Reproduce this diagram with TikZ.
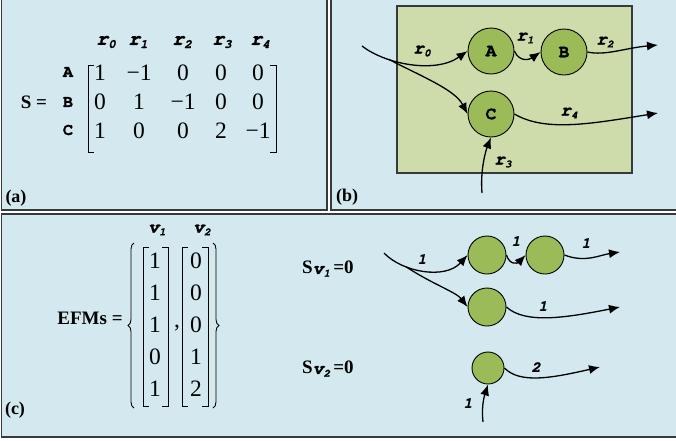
\documentclass[tikz,border=0pt]{standalone}
\usepackage{fontspec}
\setmainfont{Liberation Serif}
\newfontfamily\courfont{texgyrecursor}[Extension=.otf, UprightFont=*-regular, BoldFont=*-bold, ItalicFont=*-italic, BoldItalicFont=*-bolditalic, BoldFeatures={FakeBold=1.2}, BoldItalicFeatures={FakeBold=1.2}]
\usetikzlibrary{arrows.meta,decorations.pathreplacing}

\definecolor{panelbg}{RGB}{211,233,239}
\definecolor{cellbg}{RGB}{205,220,170}
\definecolor{nodegreen}{RGB}{155,187,89}
\definecolor{framegray}{RGB}{55,58,60}

% flux symbol: bold italic Courier letter with a lowered index
\newcommand{\flx}[4]{{\fontsize{#1}{#1}\courfont\bfseries\itshape #3\raisebox{-0.35ex}{\fontsize{#2}{#2}\selectfont #4}}}

\tikzset{
  panel/.style={fill=panelbg, draw=framegray, line width=1.6pt},
  tag/.style={font=\fontsize{18}{18}\selectfont\bfseries, inner sep=0pt},
  entry/.style={font=\fontsize{23.5}{23.5}\selectfont, inner sep=0pt},
  rowlab/.style={font=\fontsize{17}{17}\courfont\bfseries, inner sep=0pt},
  eqlab/.style={font=\fontsize{19}{19}\selectfont\bfseries, inner sep=0pt},
  pool/.style={circle, draw=black, fill=nodegreen, line width=0.9pt, inner sep=0pt,
    font=\fontsize{18}{18}\courfont\bfseries},
  bigpool/.style={pool, minimum size=46pt},
  smallpool/.style={pool, minimum size=38pt},
  tinypool/.style={pool, minimum size=32pt},
  flow/.style={line width=1.3pt, -{Latex[length=11pt,width=9pt]}},
  num/.style={font=\fontsize{15}{15}\courfont\bfseries\itshape, inner sep=0pt},
  bracket/.style={line width=0.9pt},
}

\begin{document}
\begin{tikzpicture}[x=1pt,y=-1pt]
\useasboundingbox (0,0) rectangle (676,440);
\fill[white] (0,0) rectangle (676,440);

% three panels
\path[panel] (1.5,-5) rectangle (327,210);
\path[panel] (331,-5) rectangle (682,210);
\path[panel] (1.5,214) rectangle (682,437);

% ---------- (a) stoichiometric matrix ----------
\node[tag] (taga) at (16,198) {(a)};
\node[eqlab] (seq) at (34,102) {S =};
\foreach \i/\x in {0/106,1/138,2/182,3/222,4/260}
  \node[inner sep=0pt] (h\i) at (\x,42) {\flx{20}{12.5}{r}{\i}};
\node[rowlab] (ra) at (68,72) {A};
\node[rowlab] (rb) at (68,102) {B};
\node[rowlab] (rc) at (68,130) {C};
\foreach \r/\y/\row in {1/73/{1,−1,0,0,0},2/102/{0,1,−1,0,0},3/131/{1,0,0,2,−1}}{
  \foreach \v [count=\c] in \row {
    \pgfmathsetmacro{\xx}{{0,100,139,183,221,258}[\c]}
    \node[entry] (m\r\c) at (\xx,\y) {\v};
  }
}
\draw[bracket] (94,65) -- (88,65) -- (88,152) -- (94,152);
\draw[bracket] (270,65) -- (276,65) -- (276,152) -- (270,152);

% ---------- (b) network ----------
\node[tag] (tagb) at (347,197) {(b)};
\fill[cellbg, draw=framegray, line width=1.2pt] (397,6) rectangle (632,173);
\node[bigpool] (A) at (491,51) {A};
\node[bigpool] (B) at (564,52) {B};
\node[bigpool] (C) at (491,114) {C};
\coordinate (in0) at (362,46);
\coordinate (out2) at (658,45);
\coordinate (out4) at (658,113);
\coordinate (in3) at (482,193);
\draw[flow] (in0) .. controls (385,64) and (435,74) .. (A.west) coordinate[pos=0.3] (br0);
\draw[flow] (br0) .. controls (425,78) and (455,90) .. (C.west);
\draw[flow] (A.east) .. controls (519,62) and (529,60) .. (B.west);
\draw[flow] (B.east) .. controls (605,56) and (625,48) .. (out2);
\draw[flow] (C.east) .. controls (545,132) and (590,124) .. (out4);
\draw[flow] (in3) .. controls (480,170) and (486,150) .. (C.south);
\node[inner sep=0pt] (l0) at (422,51) {\flx{18}{11}{r}{0}};
\node[inner sep=0pt] (l1) at (525,38) {\flx{18}{11}{r}{1}};
\node[inner sep=0pt] (l2) at (605,42) {\flx{18}{11}{r}{2}};
\node[inner sep=0pt] (l4) at (569,113) {\flx{18}{11}{r}{4}};
\node[inner sep=0pt] (l3) at (503,162) {\flx{18}{11}{r}{3}};

% ---------- (c) elementary flux modes ----------
\node[tag] (tagc) at (15,410) {(c)};
\node[inner sep=0pt] (v1) at (157,230) {\flx{18}{11}{v}{1}};
\node[inner sep=0pt] (v2) at (202,230) {\flx{18}{11}{v}{2}};
\node[eqlab] (efm) at (90,318) {EFMs =};
\foreach \v [count=\k] in {1,1,1,0,1}
  \node[entry] (p\k) at (155,{229+32*\k}) {\v};
\foreach \v [count=\k] in {0,0,0,1,2}
  \node[entry] (q\k) at (196,{229+32*\k}) {\v};
\node[entry] (comma) at (177,328) {,};
\draw[bracket] (149,247) -- (143,247) -- (143,406) -- (149,406);
\draw[bracket] (162,247) -- (168,247) -- (168,406) -- (162,406);
\draw[bracket] (188,247) -- (182,247) -- (182,406) -- (188,406);
\draw[bracket] (202,247) -- (208,247) -- (208,406) -- (202,406);
\draw[bracket, decorate, decoration={brace, amplitude=6pt}] (134,408) -- (134,243);
\draw[bracket, decorate, decoration={brace, amplitude=6pt}] (213,243) -- (213,408);

\node[eqlab, anchor=west] (sv1) at (302,269) {S\flx{18}{11}{v}{1}\,=0};
\node[eqlab, anchor=west] (sv2) at (302,369) {S\flx{18}{11}{v}{2}\,=0};

\node[smallpool] (c1) at (487,255) {};
\node[smallpool] (c2) at (545,255) {};
\node[smallpool] (c3) at (487,307) {};
\node[tinypool] (c4) at (488,368) {};
\coordinate (in1) at (384,253);
\coordinate (o2) at (620,252);
\coordinate (o3) at (620,307);
\coordinate (o4) at (600,367);
\coordinate (in4) at (483,422);
\draw[flow] (in1) .. controls (402,272) and (445,280) .. (c1.west) coordinate[pos=0.3] (br1);
\draw[flow] (br1) .. controls (432,284) and (456,292) .. (c3.west);
\draw[flow] (c1.east) .. controls (510,266) and (518,263) .. (c2.west);
\draw[flow] (c2.east) .. controls (585,263) and (600,255) .. (o2);
\draw[flow] (c3.east) .. controls (525,324) and (565,318) .. (o3);
\draw[flow] (c4.east) .. controls (520,384) and (552,378) .. (o4);
\draw[flow] (in4) .. controls (481,405) and (485,394) .. (c4.south);
\node[num] (n1) at (422,259) {1};
\node[num] (n2) at (516,241) {1};
\node[num] (n3) at (586,243) {1};
\node[num] (n4) at (543,306) {1};
\node[num] (n5) at (536,367) {2};
\node[num] (n6) at (468,403) {1};
\end{tikzpicture}
\end{document}
